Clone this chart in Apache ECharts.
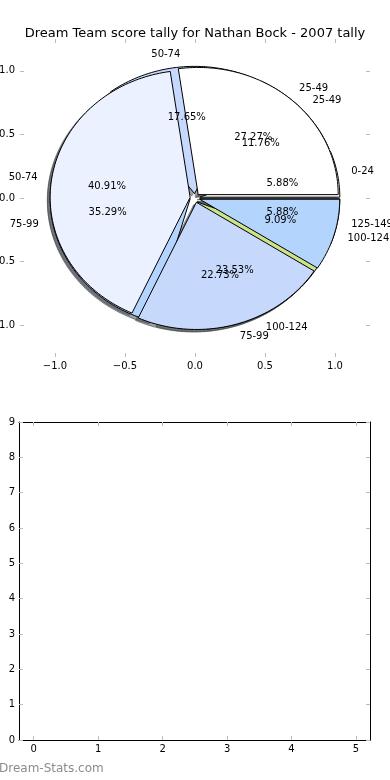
<!DOCTYPE html>
<html><head><meta charset="utf-8">
<script src="https://cdn.jsdelivr.net/npm/echarts@6/dist/echarts.min.js"></script>
<style>html,body{margin:0;padding:0;background:#fff}#c{width:390px;height:780px}</style>
</head><body><div id="c"></div>
<script>
const titleText = 'Dream Team score tally for Nathan Bock - 2007 tally';
const pieALabels = ['25-49', '50-74', '75-99', '100-124'];
const pieAValues = [6, 9, 5, 2];
const pieBLabels = ['0-24', '25-49', '50-74', '75-99', '100-124', '125-149'];
const pieBValues = [1, 2, 3, 6, 4, 1];
const sliceColors = ['#ffffff', '#ebf1fe', '#c6d9fd', '#b3d4fc', '#cbe38a', '#eeeeee'];
const pieTicks = [-1, -0.5, 0, 0.5, 1];
const lowerXTicks = [0, 1, 2, 3, 4, 5];
const watermarkText = 'Dream-Stats.com';

const EXPLODE = 0.035, RADIUS = 1, LABEL_D = 1.1, PCT_D = 0.6, SHADOW = 0.02;
const FONT = '"DejaVu Sans", sans-serif';

function buildWedges(labels, values, pie) {
  const total = values.reduce((a, b) => a + b, 0);
  let t1 = 0;
  return values.map((v, i) => {
    const frac = v / total, t2 = t1 + frac;
    const a1 = t1 * 2 * Math.PI, a2 = t2 * 2 * Math.PI, am = (a1 + a2) / 2;
    t1 = t2;
    return { pie, i, label: labels[i], pct: (frac * 100).toFixed(2) + '%',
      a1, a2, am, cx: EXPLODE * Math.cos(am), cy: EXPLODE * Math.sin(am),
      color: sliceColors[i % sliceColors.length] };
  });
}
const wedgesB = buildWedges(pieBLabels, pieBValues, 'B');
const wedgesA = buildWedges(pieALabels, pieAValues, 'A');
const allWedges = wedgesB.concat(wedgesA);

function wedgePts(api, w, dx, dy) {
  const pts = [api.coord([w.cx + dx, w.cy + dy])];
  const n = Math.max(6, Math.ceil((w.a2 - w.a1) / (Math.PI / 120)));
  for (let k = 0; k <= n; k++) {
    const a = w.a1 + (w.a2 - w.a1) * k / n;
    pts.push(api.coord([w.cx + dx + RADIUS * Math.cos(a), w.cy + dy + RADIUS * Math.sin(a)]));
  }
  return pts;
}
function shade(hex) {
  const r = parseInt(hex.slice(1, 3), 16), g = parseInt(hex.slice(3, 5), 16), b = parseInt(hex.slice(5, 7), 16);
  return 'rgba(' + Math.round(r * 0.3) + ',' + Math.round(g * 0.3) + ',' + Math.round(b * 0.3) + ',0.5)';
}
function wedgeData(list) { return list.map(w => [w.cx, w.cy]); }

const tickStyle = { show: true, inside: true, length: 4, lineStyle: { color: '#bbbbbb', width: 1 } };
const labelBase = { color: '#000', fontSize: 10, fontFamily: FONT };
const fmtPie = v => (v < 0 ? '\u2212' : '') + Math.abs(v).toFixed(1);

const chart = echarts.init(document.getElementById('c'), null, { renderer: 'canvas' });
chart.setOption({
  animation: false,
  backgroundColor: '#fff',
  title: { text: titleText, left: 'center', top: 22, textStyle: { fontSize: 13, fontWeight: 'normal', color: '#000', fontFamily: FONT } },
  grid: [
    { left: 20, top: 39, width: 350, height: 318, containLabel: false, outerBoundsMode: 'none' },
    { left: 19, top: 422, width: 351, height: 318, containLabel: false, outerBoundsMode: 'none' }
  ],
  xAxis: [
    { gridIndex: 0, type: 'value', position: 'bottom', min: -1.25, max: 1.25,
      axisLine: { show: false, onZero: false }, splitLine: { show: false },
      axisTick: Object.assign({ customValues: pieTicks }, tickStyle),
      axisLabel: Object.assign({ customValues: pieTicks, formatter: fmtPie, margin: 4 }, labelBase) },
    { gridIndex: 0, type: 'value', position: 'top', min: -1.25, max: 1.25,
      axisLine: { show: false, onZero: false }, splitLine: { show: false },
      axisTick: Object.assign({ customValues: pieTicks }, tickStyle), axisLabel: { show: false } },
    { gridIndex: 1, type: 'value', position: 'bottom', min: -0.228, max: 5.217,
      axisLine: { show: true, onZero: false, lineStyle: { color: '#000', width: 1 } }, splitLine: { show: false },
      axisTick: Object.assign({ customValues: lowerXTicks }, tickStyle),
      axisLabel: Object.assign({ customValues: lowerXTicks, margin: 4 }, labelBase) },
    { gridIndex: 1, type: 'value', position: 'top', min: -0.228, max: 5.217,
      axisLine: { show: true, onZero: false, lineStyle: { color: '#000', width: 1 } }, splitLine: { show: false },
      axisTick: Object.assign({ customValues: lowerXTicks }, tickStyle), axisLabel: { show: false } }
  ],
  yAxis: [
    { gridIndex: 0, type: 'value', position: 'left', min: -1.25, max: 1.25,
      axisLine: { show: false, onZero: false }, splitLine: { show: false },
      axisTick: Object.assign({ customValues: pieTicks }, tickStyle),
      axisLabel: Object.assign({ customValues: pieTicks, formatter: fmtPie, margin: 5 }, labelBase) },
    { gridIndex: 0, type: 'value', position: 'right', min: -1.25, max: 1.25,
      axisLine: { show: false, onZero: false }, splitLine: { show: false },
      axisTick: Object.assign({ customValues: pieTicks }, tickStyle), axisLabel: { show: false } },
    { gridIndex: 1, type: 'value', position: 'left', min: 0, max: 9, interval: 1,
      axisLine: { show: true, onZero: false, lineStyle: { color: '#000', width: 1 } }, splitLine: { show: false },
      axisTick: tickStyle, axisLabel: Object.assign({ margin: 4 }, labelBase) },
    { gridIndex: 1, type: 'value', position: 'right', min: 0, max: 9, interval: 1,
      axisLine: { show: true, onZero: false, lineStyle: { color: '#000', width: 1 } }, splitLine: { show: false },
      axisTick: tickStyle, axisLabel: { show: false } }
  ],
  series: [
    { type: 'custom', xAxisIndex: 0, yAxisIndex: 0, data: wedgeData(allWedges), z: 1, silent: true,
      renderItem: (params, api) => {
        const w = allWedges[params.dataIndex];
        const c = shade(w.color);
        return { type: 'polygon', shape: { points: wedgePts(api, w, -SHADOW, -SHADOW) }, style: { fill: c, stroke: c, lineWidth: 1 } };
      } },
    { type: 'custom', xAxisIndex: 0, yAxisIndex: 0, data: wedgeData(wedgesB), z: 2, silent: true,
      renderItem: (params, api) => {
        const w = wedgesB[params.dataIndex];
        return { type: 'polygon', shape: { points: wedgePts(api, w, 0, 0) }, style: { fill: w.color, stroke: '#000', lineWidth: 1, lineJoin: 'miter' } };
      } },
    { type: 'custom', xAxisIndex: 0, yAxisIndex: 0, data: wedgeData(wedgesA), z: 3, silent: true,
      renderItem: (params, api) => {
        const w = wedgesA[params.dataIndex];
        return { type: 'polygon', shape: { points: wedgePts(api, w, 0, 0) }, style: { fill: w.color, stroke: '#000', lineWidth: 1, lineJoin: 'miter' } };
      } },
    { type: 'custom', xAxisIndex: 0, yAxisIndex: 0, data: wedgeData(allWedges), z: 4, silent: true,
      renderItem: (params, api) => {
        const w = allWedges[params.dataIndex];
        const lx = w.cx + LABEL_D * RADIUS * Math.cos(w.am), ly = w.cy + LABEL_D * RADIUS * Math.sin(w.am);
        const px = w.cx + PCT_D * RADIUS * Math.cos(w.am), py = w.cy + PCT_D * RADIUS * Math.sin(w.am);
        const lp = api.coord([lx, ly]), pp = api.coord([px, py]);
        return { type: 'group', children: [
          { type: 'text', x: lp[0], y: lp[1], style: { text: w.label, fill: '#000', font: '10px ' + FONT, align: lx > 0 ? 'left' : 'right', verticalAlign: 'middle' } },
          { type: 'text', x: pp[0], y: pp[1], style: { text: w.pct, fill: '#000', font: '10px ' + FONT, align: 'center', verticalAlign: 'middle' } }
        ] };
      } }
  ],
  graphic: [
    { type: 'text', left: -1, top: 763, style: { text: watermarkText, fill: '#8c8c8c', font: '12px ' + FONT } }
  ]
});
</script></body></html>
